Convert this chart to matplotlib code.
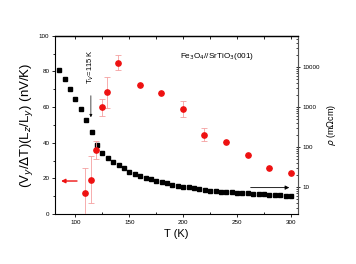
import numpy as np
import matplotlib.pyplot as plt
from matplotlib.ticker import MultipleLocator, LogLocator, NullFormatter

plt.rcParams['font.family'] = ['Liberation Sans', 'DejaVu Sans']

# thermopower-like signal (left axis)
T_s = np.arange(85, 301, 5)
S = [80.9, 75.5, 69.9, 64.7, 59.0, 52.8, 45.8, 38.6, 34.1, 31.6,
     29.1, 27.4, 25.6, 23.7, 22.4, 21.3, 20.4, 19.5, 18.3, 17.8,
     17.2, 16.4, 15.9, 15.3, 15.0, 14.4, 13.9, 13.5, 13.1, 12.7,
     12.5, 12.3, 12.2, 12.0, 11.8, 11.6, 11.4, 11.2, 11.0, 10.8,
     10.7, 10.5, 10.3, 10.1]

# resistivity (right axis, log)
T_r = [109.3, 114.2, 119.5, 124.4, 129.4, 139.3, 159.7, 179.2, 200.0, 219.5, 239.6, 259.8, 279.9, 299.7]
rho = [7.0, 15, 84, 966, 2290, 12600, 3490, 2240, 860, 195, 129, 61, 30, 22.4]
rho_lo = [1.5, 3.85, 48.4, 600, 944, 8270, 3490, 2240, 543, 141, 129, 61, 30, 22.4]
rho_hi = [29.3, 58.6, 141, 1550, 5620, 19300, 3490, 2240, 1380, 288, 129, 61, 30, 22.4]

fig = plt.figure(figsize=(3.56, 2.64), dpi=100)
ax = fig.add_axes([0.1545, 0.1894, 0.6825, 0.6754])

ax.plot(T_s, S, 's', color='black', markersize=2.4, zorder=3)
ax.set_xlim(81, 306.5)
ax.set_ylim(0, 100)
ax.xaxis.set_major_locator(MultipleLocator(50))
ax.xaxis.set_minor_locator(MultipleLocator(25))
ax.yaxis.set_major_locator(MultipleLocator(20))
ax.yaxis.set_minor_locator(MultipleLocator(10))
ax.tick_params(axis='both', which='major', labelsize=4.5, length=2.5, width=0.6, pad=1.5)
ax.tick_params(axis='x', which='minor', direction='in', length=1.5, width=0.6)
ax.tick_params(axis='y', which='minor', length=1.5, width=0.6)
for s in ['left', 'bottom']:
    ax.spines[s].set_color('#555555')
    ax.spines[s].set_linewidth(0.7)
ax.spines['top'].set_linewidth(0.9)

ax.set_xlabel('T (K)', fontsize=8, labelpad=3)
ax.set_ylabel(r'(V$_y$/$\Delta$T)(L$_z$/L$_y$) (nV/K)', fontsize=9.5, labelpad=3)

# top ticks
axt = ax.secondary_xaxis('top')
axt.xaxis.set_major_locator(MultipleLocator(25))
axt.tick_params(direction='in', length=2, width=0.6, labeltop=False)

ax2 = ax.twinx()
lo = np.array(rho) - np.array(rho_lo)
hi = np.array(rho_hi) - np.array(rho)
ax2.errorbar(T_r, rho, yerr=[lo, hi], fmt='o', color='#ee1111', markersize=3.8,
             ecolor='#f5a0a0', elinewidth=0.6, capsize=2, capthick=0.6, zorder=4)
ax2.set_yscale('log')
ax2.set_ylim(2.1, 60000)
ax2.yaxis.set_major_locator(LogLocator(base=10))
ax2.yaxis.set_minor_locator(LogLocator(base=10, subs=np.arange(2, 10)))
ax2.yaxis.set_minor_formatter(NullFormatter())
ax2.set_yticks([10, 100, 1000, 10000])
ax2.set_yticklabels(['10', '100', '1000', '10000'])
ax2.tick_params(axis='y', which='major', labelsize=4.5, direction='inout', length=3, width=0.6, pad=1.5)
ax2.tick_params(axis='y', which='minor', direction='in', length=1.5, width=0.5)
ax2.spines['right'].set_color('#555555')
ax2.spines['right'].set_linewidth(0.7)
ax2.set_ylabel(r'$\rho$ (m$\Omega$cm)', fontsize=6.5, labelpad=4)

# arrows and labels
ax.annotate('', xy=(84, 18.5), xytext=(104, 18.5),
            arrowprops=dict(arrowstyle='-|>', color='#ee1111', lw=1.0, mutation_scale=6))
ax.annotate('', xy=(301, 14.8), xytext=(260, 14.8),
            arrowprops=dict(arrowstyle='-|>', color='black', lw=0.6, mutation_scale=6))
ax.annotate('', xy=(114.3, 52.7), xytext=(114.3, 67.9),
            arrowprops=dict(arrowstyle='-|>', color='black', lw=0.5, mutation_scale=4))
ax.text(114.3, 82.5, r'T$_V$=115 K', rotation=90, fontsize=5.5, ha='center', va='center')
ax.text(197, 88.6, r'Fe$_3$O$_4$//SrTiO$_3$(001)', fontsize=5.9, ha='left', va='center')

fig.savefig('out.png', dpi=100)
